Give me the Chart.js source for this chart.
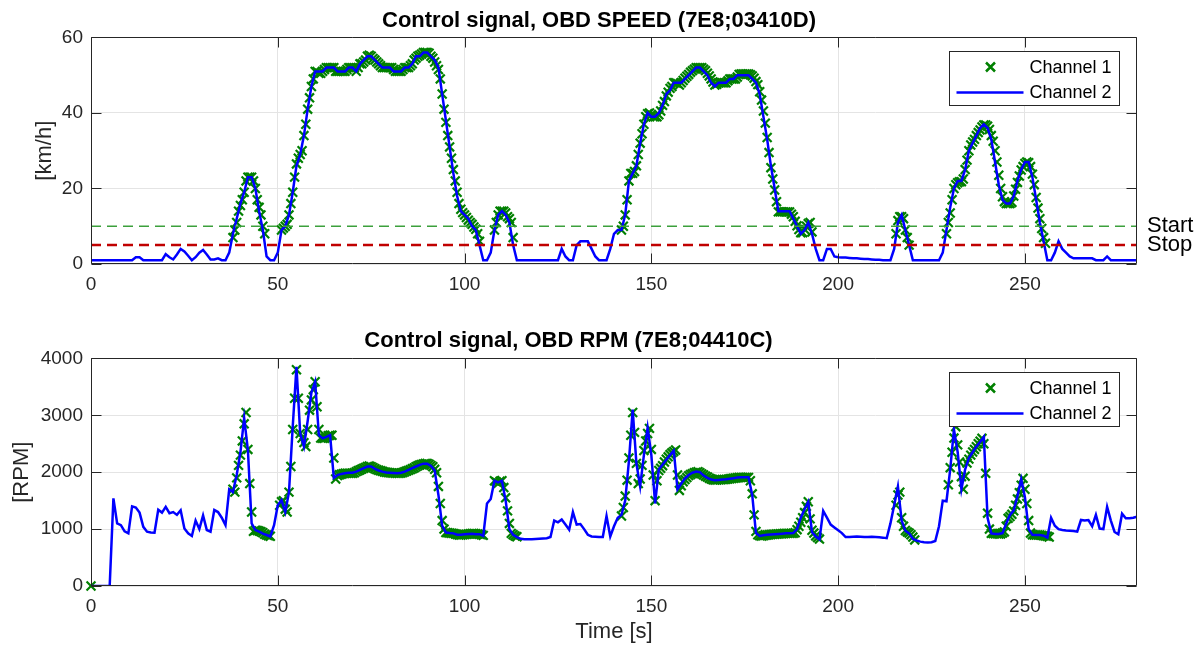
<!DOCTYPE html>
<html lang="en">
<head>
<meta charset="UTF-8">
<title>Control signal</title>
<script src="https://cdn.jsdelivr.net/npm/chart.js"></script>
<style>
    body { margin: 0; background: #fff; }
    #wrap { position: relative; width: 1198px; height: 646px; }
    #speedChart { position: absolute; left: 0; top: 0; }
    #rpmChart { position: absolute; left: 0; top: 300px; }
</style>
</head>
<body>
<div id="wrap">
    <canvas id="speedChart" width="1198" height="300"></canvas>
    <canvas id="rpmChart" width="1198" height="346"></canvas>
</div>

<script>
    // channel 2 is logged every 1 s from t = 0, channel 1 every 0.5 s while active
    const CH2_STEP = 1;
    const CH1_STEP = 0.5;
    const X_MIN = 0, X_MAX = 280;
    const xTickStep = 50;

    // OBD speed [km/h], channel 2, t = 0..280
    const speedKmh = [
        1, 1, 1, 1, 1, 1, 1, 1, 1, 1,
        1, 1, 1.8, 1.8, 1, 1, 1, 1, 1, 1,
        2.6, 1.8, 1.2, 2.5, 4, 3.3, 2.2, 1, 1.8, 3,
        3.7, 2.5, 1.2, 1.2, 1.5, 1, 1, 3, 8, 12,
        16, 19, 23, 23, 20, 14, 9, 2, 1, 1,
        3, 9, 10, 13, 19, 26, 29, 34, 41, 47,
        51, 51, 51, 52, 52, 52, 51, 51, 51, 52,
        52, 51, 53, 54, 55, 55, 54, 53, 52, 52,
        52, 51, 51, 51, 52, 52, 53, 55, 55, 56,
        56, 55, 54, 52, 45, 38, 31, 24, 18, 14,
        13, 12, 10, 9, 5, 1, 1, 3, 9, 13,
        14, 13, 11, 5, 1, 1, 1, 1, 1, 1,
        1, 1, 1, 1, 1, 1, 4, 2, 1, 1,
        5, 6, 6, 6, 4, 2, 1, 1, 1, 4,
        8, 9, 9, 13, 22, 24, 26, 32, 37, 40,
        39, 39, 40, 42, 45, 46, 48, 48, 48, 49,
        50, 51, 52, 52, 51, 50, 48, 47, 48, 48,
        48, 49, 49, 50, 50, 50, 50, 49, 48, 45,
        39, 33, 26, 20, 14, 14, 14, 14, 12, 10,
        8, 9, 11, 8, 4, 1, 1, 4, 4, 2,
        1.8, 1.7, 1.7, 1.6, 1.5, 1.5, 1.4, 1.3, 1.3, 1.2,
        1.1, 1.1, 1, 1, 1, 4, 11, 13, 9, 5,
        1, 1, 1, 1, 1, 1, 1, 1, 3, 9,
        15, 20, 22, 22, 25, 30, 32, 34, 36, 37,
        36, 33, 27, 21, 17, 16, 16, 18, 22, 25,
        27, 27, 23, 17, 11, 6, 1, 1, 3, 6,
        4, 3, 2, 1.5, 1.5, 1.5, 1.5, 1.5, 1.5, 1,
        1, 1, 2, 1, 1, 1, 1, 1, 1, 1, 1
    ];

    // OBD engine speed [RPM], channel 2, t = 0..280
    const engineRpm = [
        0, 0, 0, 0, 0, 0, 1540, 1100, 1070, 960,
        925, 1400, 1380, 1290, 1040, 955, 940, 937, 1340, 1290,
        1390, 1280, 1300, 1250, 1330, 1010, 925, 880, 1150, 1000,
        1240, 984, 955, 1335, 1300, 1200, 1070, 1700, 1650, 1950,
        2350, 2950, 2390, 1100, 984, 955, 920, 896, 870, 1070,
        1420, 1511, 1300, 1650, 2800, 3850, 2680, 2450, 2900, 3400,
        3590, 2650, 2595, 2620, 2650, 1900, 1950, 1970, 1980, 1990,
        1990, 2010, 2040, 2070, 2100, 2100, 2060, 2030, 2010, 1995,
        1990, 1985, 1980, 1990, 2010, 2040, 2070, 2100, 2130, 2150,
        2150, 2110, 2030, 1600, 1060, 940, 930, 925, 900, 900,
        908, 915, 920, 910, 910, 880, 1450, 1530, 1850, 1820,
        1850, 1500, 1000, 900, 860, 830, 820, 820, 820, 825,
        830, 835, 840, 860, 1150, 1120, 1170, 1080, 990, 1300,
        1080, 1090, 1000, 900, 870, 865, 860, 860, 1230, 870,
        1050, 1200, 1250, 1500, 2200, 3100, 2150, 1750, 2300, 2780,
        2300, 1450, 2050, 2130, 2220, 2300, 2380, 1700, 1800, 1890,
        1950, 1990, 2010, 2000, 1940, 1900, 1870, 1860, 1865, 1870,
        1875, 1885, 1895, 1905, 1910, 1910, 1910, 1600, 930, 880,
        890, 900, 905, 910, 915, 920, 925, 925, 930, 1000,
        1200, 1350, 1480, 950, 870, 820, 1320, 1200, 1080, 1030,
        980, 930, 860, 860, 865, 870, 865, 860, 860, 865,
        860, 855, 850, 840, 1100, 1420, 1750, 1150, 970, 925,
        830, 800, 780, 770, 765, 770, 790, 1050, 1500, 1490,
        2050, 2750, 2350, 1700, 2050, 2250, 2350, 2450, 2530, 2620,
        1200, 925, 915, 914, 930, 1100, 1250, 1330, 1580, 1880,
        1560, 1000, 900, 895, 895, 885, 850, 1200, 1060, 1000,
        985, 975, 970, 965, 955, 1160, 1150, 1160, 1050, 1250,
        1010, 1000, 1390, 1150, 950, 910, 1270, 1190, 1190, 1200, 1220
    ];

    // channel 1 speed: start time [s] of each active window and its samples
    const speedCh1Start = [38, 51, 108, 142, 215.5, 229];
    const speedCh1 = [
        [7, 9, 11, 14, 15.5, 17, 19, 22, 23, 23,
         23, 22, 20, 17, 15, 13, 10, 8],
        [9, 9.5, 10, 10.5, 13, 16, 19, 23, 26.5, 28,
         29, 30, 34, 37, 41, 44, 47, 49, 51, 51,
         50.5, 50.5, 51, 51.5, 52, 52, 52, 52, 52, 51,
         51, 51, 51, 51, 51, 51.5, 52, 52, 52, 52,
         51, 52, 53, 53, 53.5, 54, 55, 55.3, 55, 54.4,
         54, 53.5, 53, 52.5, 52, 52, 52, 52, 52, 52,
         51.5, 51, 51, 51, 51, 51.5, 52, 52, 52, 52.5,
         53, 54, 54.5, 55, 55.3, 55.6, 56, 56, 56, 55.8,
         55, 54.5, 53.5, 52.5, 51.5, 49, 45, 41, 37.5, 34,
         31, 28, 25, 22, 19, 16, 14.5, 13.6, 13, 12.3,
         11.6, 11, 10.5, 9.8, 9.2, 8, 6],
        [9, 11, 13, 14, 14, 14, 13.5, 12.5, 12, 11, 7],
        [9, 10, 13, 17, 22, 24, 24, 24.5, 26, 29,
         32, 34.5, 37, 39, 39.8, 40, 39.5, 39, 39, 39,
         39.5, 40.5, 42, 43, 44.5, 45.5, 46.5, 47, 48, 48,
         47.8, 47.4, 48, 48.6, 49.2, 49.7, 50.2, 50.8, 51.2, 51.6,
         52, 52, 52, 52, 51.6, 51.2, 50.5, 49.8, 49, 48.2,
         47.4, 47.6, 48, 48, 48, 48, 48, 48.5, 49, 49,
         49, 49, 49.5, 50.2, 50.3, 50.3, 50.3, 50.3, 50.3, 50.1,
         49.8, 49.2, 48.3, 47.5, 45.6, 43.4, 40.5, 37.3, 33.5, 29.5,
         25.5, 22.5, 19.6, 16.5, 13.8, 13.8, 13.8, 13.8, 13.8, 13.8,
         13.8, 13.2, 12.5, 11.3, 10.1, 9.1, 8.3, 8.3, 9.2, 10,
         10.7, 11, 8.5],
        [8, 11.5, 12.5, 12.5, 12, 9, 7, 5],
        [8, 11, 13.5, 17, 20, 21, 21.5, 21.8, 21.8, 22.5,
         25, 27.5, 30, 31.5, 32.3, 33, 34, 34.8, 35.5, 36.3,
         36.8, 36.8, 36.5, 35.6, 34, 32.5, 30, 27, 23.5, 20,
         17.8, 16.5, 16, 16, 16, 16.3, 18, 19.8, 21.6, 23.3,
         24.9, 25.8, 26.6, 27, 26.8, 25.8, 23.8, 21, 17.6, 14.8,
         12, 9.4, 7, 5.5]
    ];

    // channel 1 RPM: start time [s] of each active window and its samples
    const rpmCh1Start = [0, 38, 50.5, 108, 142, 215.5, 229.5];
    const rpmCh1 = [
        [0],
        [1700, 1650, 1900, 2120, 2300, 2550, 2850, 3050, 2400, 1800,
         1300, 960, 980, 975, 965, 955, 935, 910, 895, 885,
         875],
        [1420, 1480, 1500, 1350, 1300, 1650, 2100, 2750, 3300, 3800,
         3300, 2680, 2600, 2520, 2450, 2750, 3090, 3270, 3450, 3590,
         3150, 2750, 2600, 2595, 2595, 2610, 2640, 2650, 2650, 2250,
         1880, 1940, 1955, 1965, 1975, 1980, 1980, 1980, 1980, 1980,
         1990, 2010, 2025, 2040, 2055, 2070, 2085, 2100, 2108, 2095,
         2080, 2060, 2045, 2035, 2025, 2015, 2005, 2000, 1995, 1990,
         1987, 1985, 1983, 1981, 1980, 1985, 1995, 2008, 2020, 2032,
         2045, 2060, 2075, 2095, 2112, 2126, 2135, 2145, 2152, 2155,
         2140, 2120, 2097, 2050, 1990, 1750, 1450, 1150, 1000, 940,
         935, 930, 927, 925, 915, 905, 898, 897, 900, 905,
         908, 912, 918, 923, 922, 918, 912, 908, 900, 890],
        [1850, 1830, 1805, 1840, 1850, 1730, 1550, 1320, 1100, 925, 900, 880, 865],
        [1230, 1380, 1580, 1860, 2250, 2650, 3050, 2700, 2155, 1800,
         1880, 2120, 2380, 2550, 2680, 2770, 2400, 1950, 1500, 1850,
         2030, 2070, 2115, 2180, 2230, 2270, 2310, 2340, 2365, 2390,
         1950, 1680, 1760, 1833, 1870, 1905, 1940, 1960, 1975, 1990,
         2000, 2009, 1990, 1970, 1950, 1930, 1915, 1895, 1880, 1868,
         1862, 1864, 1866, 1868, 1870, 1872, 1874, 1878, 1883, 1888,
         1893, 1898, 1903, 1908, 1909, 1909, 1909, 1909, 1909, 1850,
         1620, 1250, 960, 900, 885, 878, 885, 890, 895, 900,
         905, 908, 910, 912, 915, 917, 920, 922, 925, 925,
         925, 925, 925, 935, 990, 1050, 1120, 1200, 1290, 1400,
         1480, 1180, 980, 930, 880, 850, 825],
        [1420, 1600, 1650, 1200, 1050, 975, 950, 930, 900, 860, 810],
        [1780, 2080, 2350, 2600, 2800, 2480, 2180, 1921, 1700, 1930,
         2160, 2230, 2300, 2355, 2400, 2448, 2500, 2545, 2595, 2500,
         1980, 1280, 1000, 925, 922, 920, 917, 915, 915, 930,
         950, 1050, 1189, 1220, 1260, 1320, 1420, 1530, 1640, 1770,
         1892, 1700, 1450, 1150, 930, 900, 896, 896, 896, 896,
         890, 885, 880, 875, 860]
    ];

    // start / stop thresholds on the speed plot
    const thresholdLevels = [10, 5];
    const thresholdLabels = ['Start', 'Stop'];

    const speedTicks = { min: 0, max: 60, step: 20 };
    const rpmTicks = { min: 0, max: 4000, step: 1000 };

    Chart.defaults.font.family = "'Liberation Sans', Arial, Helvetica, sans-serif";
    Chart.defaults.color = '#262626';

    const GRID = '#e4e4e4';
    const FRAME = '#262626';

    function linePoints(values) {
        return values.map((v, i) => ({ x: X_MIN + i * CH2_STEP, y: v }));
    }
    function windowPoints(starts, windows) {
        return starts.flatMap((t0, w) => windows[w].map((v, i) => ({ x: t0 + i * CH1_STEP, y: v })));
    }

    // MATLAB-like box with inward tick marks
    const axesBox = {
        id: 'axesBox',
        afterDatasetsDraw(chart) {
            const { ctx, chartArea: a, scales } = chart;
            const L = Math.round(a.left) + 0.5, R = Math.round(a.right) - 0.5;
            const T = Math.round(a.top) + 0.5, B = Math.round(a.bottom) - 0.5;
            const len = 10;
            ctx.save();
            ctx.strokeStyle = FRAME;
            ctx.lineWidth = 1;
            ctx.beginPath();
            ctx.rect(L, T, R - L, B - T);
            scales.x.ticks.forEach(t => {
                const px = Math.round(scales.x.getPixelForValue(t.value)) + 0.5;
                ctx.moveTo(px, B); ctx.lineTo(px, B - len);
                ctx.moveTo(px, T); ctx.lineTo(px, T + len);
            });
            scales.y.ticks.forEach(t => {
                const py = Math.round(scales.y.getPixelForValue(t.value)) + 0.5;
                ctx.moveTo(L, py); ctx.lineTo(L + len, py);
                ctx.moveTo(R, py); ctx.lineTo(R - len, py);
            });
            ctx.stroke();
            ctx.restore();
        }
    };

    // legend box in the upper right corner of the axes
    const boxLegend = {
        id: 'boxLegend',
        afterDraw(chart) {
            const { ctx, chartArea: a } = chart;
            const w = 170, h = 54;
            const left = Math.round(a.right - 18 - w) + 0.5;
            const top = Math.round(a.top + 14) + 0.5;
            ctx.save();
            ctx.fillStyle = '#fff';
            ctx.fillRect(left, top, w, h);
            ctx.strokeStyle = FRAME;
            ctx.lineWidth = 1;
            ctx.strokeRect(left, top, w, h);
            const items = chart.data.datasets.filter(d => d.inLegend);
            items.forEach((d, i) => {
                const cy = top + 15.5 + i * 25.5;
                if (d.showLine === false) {
                    const cx = left + 41, r = 4.5;
                    ctx.strokeStyle = d.pointBorderColor;
                    ctx.lineWidth = 2.5;
                    ctx.beginPath();
                    ctx.moveTo(cx - r, cy - r); ctx.lineTo(cx + r, cy + r);
                    ctx.moveTo(cx + r, cy - r); ctx.lineTo(cx - r, cy + r);
                    ctx.stroke();
                } else {
                    ctx.strokeStyle = d.borderColor;
                    ctx.lineWidth = d.borderWidth;
                    ctx.beginPath();
                    ctx.moveTo(left + 7, cy); ctx.lineTo(left + 74, cy);
                    ctx.stroke();
                }
                ctx.fillStyle = '#000';
                ctx.font = "18px 'Liberation Sans', Arial, sans-serif";
                ctx.textBaseline = 'middle';
                ctx.fillText(d.label, left + 80, cy + 1);
            });
            ctx.restore();
        }
    };

    function channelSets(ch1Points, ch2Values) {
        return [
            {
                label: 'Channel 1',
                inLegend: true,
                data: ch1Points,
                showLine: false,
                pointStyle: 'crossRot',
                pointRadius: 6.3,
                pointBorderWidth: 2.2,
                pointBorderColor: '#008000',
                pointBackgroundColor: '#008000',
                borderColor: '#008000',
                clip: false,
                order: 2
            },
            {
                label: 'Channel 2',
                inLegend: true,
                data: linePoints(ch2Values),
                borderColor: '#0000ff',
                borderWidth: 2.5,
                pointRadius: 0,
                tension: 0,
                order: 1
            }
        ];
    }

    function xScale(height, withTitle) {
        return {
            type: 'linear',
            min: X_MIN,
            max: X_MAX,
            ticks: { stepSize: xTickStep, includeBounds: false, maxRotation: 0, padding: 9, font: { size: 19 } },
            grid: { color: GRID, drawTicks: false },
            border: { display: false },
            title: {
                display: withTitle,
                text: 'Time [s]',
                font: { size: 22 },
                padding: { top: 0, bottom: 1 }
            },
            afterFit: s => { s.height = height; }
        };
    }

    function yScale(range, label, titlePad) {
        return {
            type: 'linear',
            min: range.min,
            max: range.max,
            ticks: { stepSize: range.step, padding: 8, font: { size: 19 }, callback: v => String(v) },
            grid: { color: GRID, drawTicks: false },
            border: { display: false },
            title: {
                display: true,
                text: label,
                font: { size: 22 },
                padding: { top: titlePad, bottom: 0 }
            },
            afterFit: s => { s.width = 91; }
        };
    }

    const speedSets = channelSets(windowPoints(speedCh1Start, speedCh1), speedKmh);
    const thresholdColors = ['rgb(60,160,60)', '#c00000'];
    const thresholdWidths = [1.5, 2.5];
    thresholdLevels.forEach((lvl, i) => {
        speedSets.push({
            label: thresholdLabels[i],
            data: [{ x: X_MIN, y: lvl }, { x: X_MAX, y: lvl }],
            borderColor: thresholdColors[i],
            borderWidth: thresholdWidths[i],
            borderDash: [10, 6],
            pointRadius: 0,
            order: 0
        });
    });

    new Chart(document.getElementById('speedChart'), {
        type: 'line',
        data: { datasets: speedSets },
        options: {
            responsive: false,
            animation: false,
            events: [],
            devicePixelRatio: 1,
            layout: { padding: 0 },
            scales: {
                x: xScale(36, false),
                y: yScale(speedTicks, '[km/h]', 32),
                yStartStop: {
                    type: 'linear',
                    position: 'right',
                    min: speedTicks.min,
                    max: speedTicks.max,
                    afterBuildTicks: axis => {
                        axis.ticks = thresholdLevels.map(v => ({ value: v }));
                    },
                    ticks: {
                        autoSkip: false,
                        padding: 10,
                        color: '#000',
                        font: { size: 22 },
                        callback: v => thresholdLabels[thresholdLevels.indexOf(v)]
                    },
                    grid: { display: false, drawTicks: false },
                    border: { display: false },
                    afterFit: s => { s.width = 61; }
                }
            },
            plugins: {
                legend: { display: false },
                tooltip: { enabled: false },
                title: {
                    display: true,
                    text: 'Control signal, OBD SPEED (7E8;03410D)',
                    color: '#000',
                    font: { size: 22, weight: 'bold' },
                    padding: { top: 8, bottom: 3 }
                }
            }
        },
        plugins: [axesBox, boxLegend]
    });

    new Chart(document.getElementById('rpmChart'), {
        type: 'line',
        data: { datasets: channelSets(windowPoints(rpmCh1Start, rpmCh1), engineRpm) },
        options: {
            responsive: false,
            animation: false,
            events: [],
            devicePixelRatio: 1,
            layout: { padding: { left: 0, right: 61, top: 0, bottom: 0 } },
            scales: {
                x: xScale(60, true),
                y: yScale(rpmTicks, '[RPM]', 9)
            },
            plugins: {
                legend: { display: false },
                tooltip: { enabled: false },
                title: {
                    display: true,
                    text: 'Control signal, OBD RPM (7E8;04410C)',
                    color: '#000',
                    font: { size: 22, weight: 'bold' },
                    padding: { top: 28, bottom: 4 }
                }
            }
        },
        plugins: [axesBox, boxLegend]
    });
</script>
</body>
</html>
